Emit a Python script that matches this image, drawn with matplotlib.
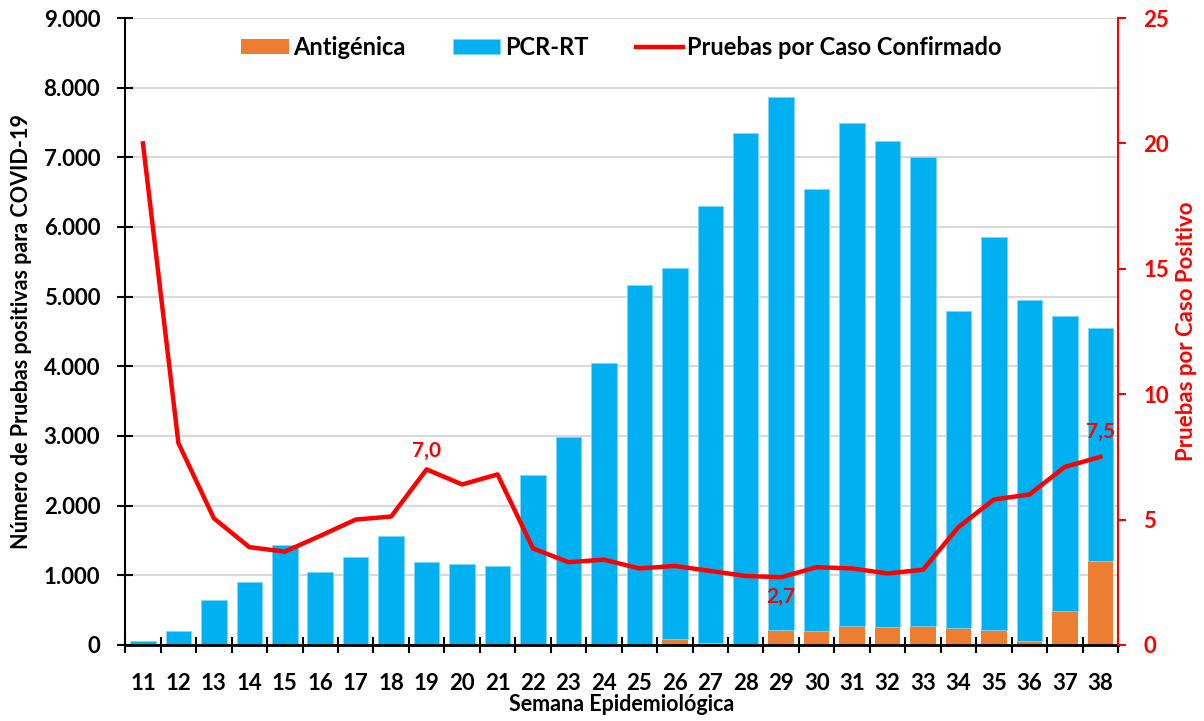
import matplotlib.pyplot as plt
import numpy as np
from matplotlib.ticker import FuncFormatter, MultipleLocator

plt.rcParams['font.family'] = ['Lato', 'DejaVu Sans']
plt.rcParams['font.weight'] = 'bold'

# Semanas epidemiológicas
semanas = list(range(11, 39))

# Total de pruebas positivas (altura total de la barra)
total = [50, 200, 650, 900, 1435, 1045, 1265, 1565, 1190, 1160, 1130,
         2445, 2990, 4050, 5170, 5415, 6300, 7345, 7870, 6545, 7490,
         7235, 7005, 4795, 5855, 4950, 4720, 4550]

# Pruebas antigénicas positivas
antigenica = [0, 0, 0, 0, 0, 0, 0, 0, 0, 0, 0,
              0, 0, 0, 0, 90, 30, 0, 215, 200, 275,
              260, 275, 250, 210, 60, 480, 1200]

# Pruebas por caso confirmado
pruebas_caso = [20.0, 8.05, 5.05, 3.9, 3.72, 4.35, 5.0, 5.12, 7.0, 6.4, 6.8,
                3.85, 3.3, 3.4, 3.05, 3.15, 2.95, 2.75, 2.7, 3.1, 3.05,
                2.85, 3.0, 4.7, 5.8, 6.0, 7.1, 7.5]

pcr = [t - a for t, a in zip(total, antigenica)]

naranja = '#ED7D31'
azul = '#00B0F0'
rojo = '#FF0000'

x = np.arange(len(semanas))

fig = plt.figure(figsize=(12.04, 7.21), dpi=100)
ax = fig.add_axes([0.104, 0.1055, 0.8246, 0.8695])

ax.bar(x, antigenica, width=0.72, color=naranja, label='Antigénica', zorder=2)
ax.bar(x, pcr, width=0.72, bottom=antigenica, color=azul, label='PCR-RT',
       edgecolor='#7FD7F7', linewidth=0.6, zorder=2)

ax.set_ylim(0, 9000)
ax.set_xlim(-0.5, len(semanas) - 0.5)
ax.yaxis.set_major_locator(MultipleLocator(1000))
ax.yaxis.set_major_formatter(FuncFormatter(lambda v, p: f'{int(v):,}'.replace(',', '.')))
ax.grid(axis='y', color='#D9D9D9', linewidth=1.5, zorder=0)
ax.set_axisbelow(True)

ax.set_xticks(x)
ax.set_xticklabels([str(s) for s in semanas])
ax.set_xticks(np.arange(-0.5, len(semanas), 1), minor=True)
ax.tick_params(axis='x', which='major', length=0, pad=20, labelsize=16)
ax.tick_params(axis='x', which='minor', length=12, width=1.5, direction='inout')
ax.tick_params(axis='y', labelsize=16, length=12, width=1.5, direction='inout', pad=12)

for side in ['top', 'right']:
    ax.spines[side].set_visible(False)
ax.spines['left'].set_linewidth(1.5)
ax.spines['bottom'].set_linewidth(2)

ax.set_xlabel('Semana Epidemiológica', fontsize=15.5, fontweight='bold', labelpad=0)
ax.set_ylabel('Número de Pruebas positivas para COVID-19', fontsize=15.5,
              fontweight='bold', labelpad=8)

ax2 = ax.twinx()
ax2.plot(x, pruebas_caso, color=rojo, linewidth=3.2, label='Pruebas por Caso Confirmado',
         solid_joinstyle='round', zorder=3)
ax2.set_ylim(0, 25)
ax2.yaxis.set_major_locator(MultipleLocator(5))
ax2.tick_params(axis='y', colors=rojo, labelsize=16, length=6, width=1.5, pad=12)
for side in ['top', 'left', 'bottom']:
    ax2.spines[side].set_visible(False)
ax2.spines['right'].set_color(rojo)
ax2.spines['right'].set_linewidth(1.5)
ax2.set_ylabel('Pruebas por Caso Positivo', fontsize=16, fontweight='bold',
               color=rojo, labelpad=5)

# Etiquetas de valores destacados
for i, off in [(8, 13), (18, -14), (27, 18)]:
    ax2.annotate(f'{pruebas_caso[i]:.1f}'.replace('.', ','), (x[i], pruebas_caso[i]),
                 xytext=(0, off), textcoords='offset points', ha='center', va='center',
                 color=rojo, fontsize=15, fontweight='bold')

h1, l1 = ax.get_legend_handles_labels()
h2, l2 = ax2.get_legend_handles_labels()
ax.legend(h1 + h2, l1 + l2, loc='upper center', bbox_to_anchor=(0.5, 1.005), ncol=3,
          frameon=False, fontsize=17, handlelength=2.0, handleheight=0.6,
          columnspacing=2.0, handletextpad=0.2)

plt.savefig('out.png', dpi=100)
plt.close()
